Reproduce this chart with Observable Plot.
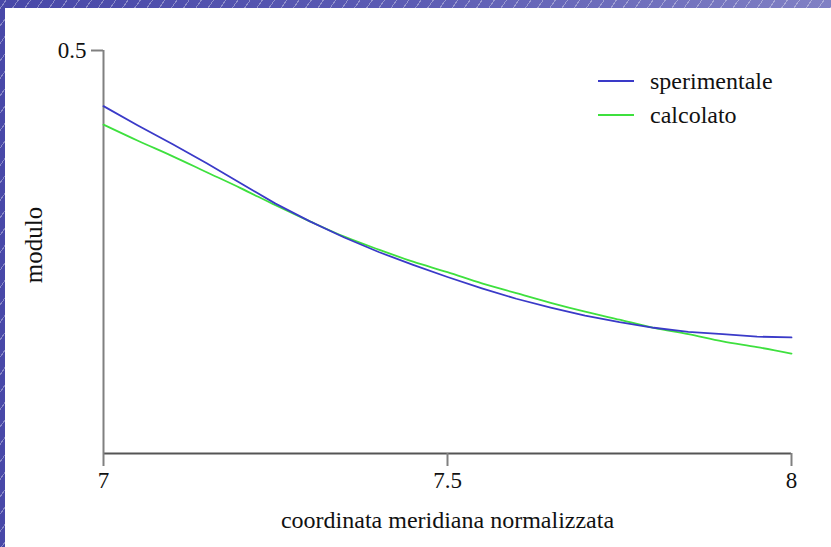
<!DOCTYPE html>
<html>
<head>
<meta charset="utf-8">
<script src="https://cdn.jsdelivr.net/npm/d3@7"></script>
<script src="https://cdn.jsdelivr.net/npm/@observablehq/plot@0.6"></script>
<style>
  html, body { margin: 0; padding: 0; }
  body {
    width: 831px; height: 547px; overflow: hidden; position: relative;
    background:
      repeating-linear-gradient(-55deg, rgba(255,255,255,0) 0px, rgba(255,255,255,0) 9px, rgba(255,255,255,0.35) 9px, rgba(255,255,255,0.35) 10px),
      linear-gradient(90deg, #4848a8 0%, #5c5cb4 50%, #8080c4 100%);
    font-family: "Liberation Serif", "DejaVu Serif", serif;
  }
  #panel { position: absolute; left: 5px; top: 8px; right: 0; bottom: 0; background: #fff; }
  #chart { position: absolute; left: 0; top: 0; }
  #legend { position: absolute; left: 598px; top: 64px; font-family: "Liberation Serif", serif; font-size: 24px; color: #111; line-height: 34px; }
  #legend .row { display: flex; align-items: center; white-space: nowrap; }
  #legend svg { margin-right: 16px; }
</style>
</head>
<body>
<div id="panel"></div>
<div id="chart"></div>
<div id="legend"></div>
<script>
const xs = [7.00, 7.05, 7.10, 7.15, 7.20, 7.25, 7.30, 7.35, 7.40, 7.45, 7.50, 7.55, 7.60, 7.65, 7.70, 7.75, 7.80, 7.85, 7.90, 7.95, 8.00];
const sperimentale = [0.431, 0.407, 0.384, 0.360, 0.335, 0.310, 0.288, 0.268, 0.250, 0.234, 0.219, 0.205, 0.192, 0.181, 0.171, 0.163, 0.156, 0.151, 0.148, 0.145, 0.144];
const calcolato   = [0.408, 0.388, 0.369, 0.349, 0.329, 0.308, 0.288, 0.269, 0.253, 0.238, 0.225, 0.211, 0.199, 0.187, 0.176, 0.166, 0.156, 0.148, 0.139, 0.132, 0.124];
const seriesNames = ["sperimentale", "calcolato"];
const seriesColors = ["#3a3ac8", "#3ee03e"];
const xTicks = [7, 7.5, 8];
const yTicks = [0.5];
const xLabel = "coordinata meridiana normalizzata";
const yLabel = "modulo";

const expData = xs.map((x, i) => ({x, y: sperimentale[i], s: seriesNames[0]}));
const calcData = xs.map((x, i) => ({x, y: calcolato[i], s: seriesNames[1]}));

const font = "'Liberation Serif', 'DejaVu Serif', serif";
const plot = Plot.plot({
  width: 831,
  height: 547,
  marginLeft: 103,
  marginRight: 40,
  marginTop: 50,
  marginBottom: 94,
  style: { background: "transparent", fontFamily: font, fontSize: "23px", color: "#111", overflow: "visible" },
  x: { domain: [7, 8] },
  y: { domain: [0, 0.5] },
  color: { domain: seriesNames, range: seriesColors },
  marks: [
    Plot.ruleY([0], { stroke: "#555", strokeWidth: 2 }),
    Plot.ruleX([7], { y1: 0, y2: 0.5, stroke: "#808080", strokeWidth: 2 }),
    Plot.axisX({
      ticks: xTicks, tickSize: 13, tickPadding: 5, stroke: "#808080", strokeWidth: 2,
      tickFormat: d => String(d), fontSize: 23, fill: "#111", fontFamily: font, label: null
    }),
    Plot.axisX({
      ticks: [], tickSize: 0, fontSize: 24, fill: "#111", fontFamily: font,
      label: xLabel, labelAnchor: "center", labelArrow: "none", labelOffset: 74
    }),
    Plot.axisY({
      ticks: yTicks, tickSize: 12, tickPadding: 5, stroke: "#808080", strokeWidth: 2,
      tickFormat: d => String(d), fontSize: 23, fill: "#111", fontFamily: font, label: null
    }),
    Plot.text([yLabel], { frameAnchor: "left", dx: -70, dy: -7, rotate: -90, fontSize: 25, fontFamily: font, fill: "#111", textAnchor: "middle" }),
    Plot.line(calcData, { x: "x", y: "y", stroke: "s", strokeWidth: 1.8, curve: "monotone-x" }),
    Plot.line(expData, { x: "x", y: "y", stroke: "s", strokeWidth: 1.8, curve: "linear" })
  ]
});
document.getElementById("chart").appendChild(plot);

const legend = document.getElementById("legend");
seriesNames.forEach((name, i) => {
  const row = document.createElement("div");
  row.className = "row";
  row.innerHTML = `<svg width="36" height="4"><line x1="0" y1="2" x2="36" y2="2" stroke="${seriesColors[i]}" stroke-width="2"/></svg><span>${name}</span>`;
  legend.appendChild(row);
});
</script>
</body>
</html>
